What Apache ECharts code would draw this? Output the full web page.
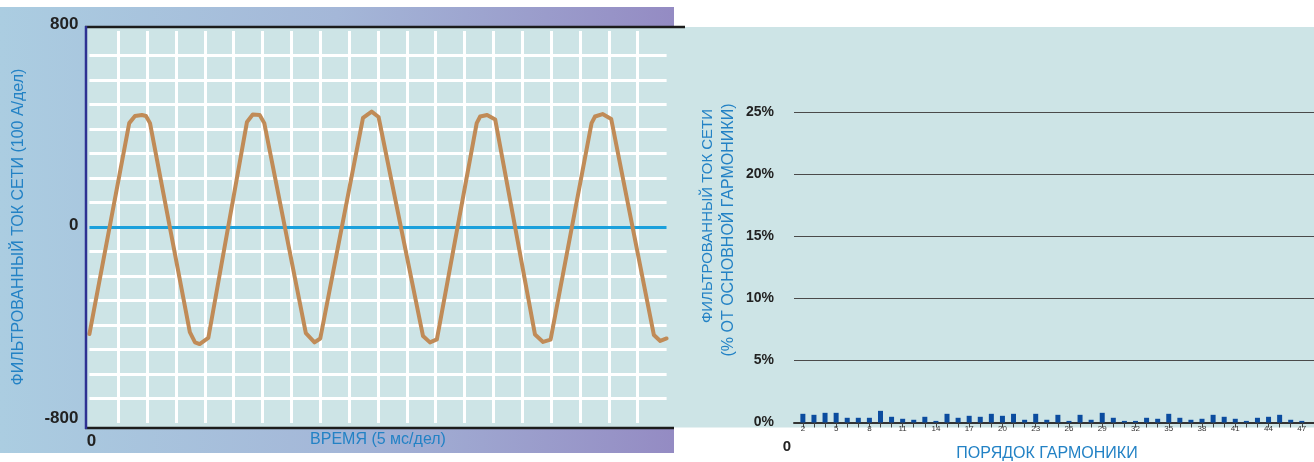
<!DOCTYPE html>
<html>
<head>
<meta charset="utf-8">
<title>Ток сети и гармоники</title>
<script src="https://cdn.jsdelivr.net/npm/echarts@6.0.0/dist/echarts.min.js"></script>
<style>
  html, body { margin: 0; padding: 0; background: #ffffff; }
  #chart { width: 1314px; height: 462px; }
</style>
</head>
<body>
<div id="chart"></div>
<script>
// Filtered mains current waveform: time (ms) and current (A)
const timeMs = [0.0, 6.9, 7.9, 9.1, 9.8, 10.5, 17.4, 18.3, 19.1, 20.6, 27.3, 28.3, 29.5, 30.3,
  37.5, 39.0, 40.0, 47.4, 48.9, 50.1, 57.8, 59.0, 60.2, 67.1, 67.7, 68.9, 70.3,
  77.2, 78.6, 79.9, 87.0, 87.6, 88.9, 90.4, 97.8, 98.9, 100.0];
const currentA = [-437, 424, 453, 457, 453, 424, -429, -471, -478, -453, 429, 459, 457, 424,
  -433, -471, -455, 445, 471, 449, -445, -471, -459, 424, 451, 457, 439,
  -439, -469, -460, 424, 451, 461, 441, -441, -465, -455];
const currentTickLabels = [-800, 0, 800];
const timeTickLabels = [0];

// Harmonic spectrum: harmonic order and level (% of fundamental)
const harmonicOrder = [2, 3, 4, 5, 6, 7, 8, 9, 10, 11, 12, 13, 14, 15, 16, 17, 18, 19, 20, 21, 22, 23, 24,
  25, 26, 27, 28, 29, 30, 31, 32, 33, 34, 35, 36, 37, 38, 39, 40, 41, 42, 43, 44, 45, 46, 47];
const harmonicPct = [0.70, 0.62, 0.78, 0.78, 0.38, 0.38, 0.38, 0.94, 0.46, 0.30, 0.22, 0.46, 0.13, 0.70,
  0.38, 0.54, 0.46, 0.70, 0.54, 0.70, 0.22, 0.70, 0.22, 0.62, 0.13, 0.62, 0.22, 0.78, 0.38, 0.13,
  0.13, 0.38, 0.30, 0.70, 0.38, 0.22, 0.30, 0.62, 0.46, 0.30, 0.13, 0.38, 0.46, 0.62, 0.22, 0.13];
const harmonicTickLabels = [2, 5, 8, 11, 14, 17, 20, 23, 26, 29, 32, 35, 38, 41, 44, 47];

const FONT = '"Liberation Sans", Arial, Helvetica, sans-serif';
const BLUE_TEXT = '#2382c5';
const TEAL = '#cde4e6';

// current labels sit a little above their grid lines
function currentLabel(v) {
  if (!currentTickLabels.includes(v)) return '';
  if (v > 0) return '{hi|' + v + '}';
  if (v < 0) return '{lo|' + v + '}';
  return '{mid|' + v + '}';
}
const boldLabel = { fontFamily: FONT, fontSize: 17, fontWeight: 'bold', color: '#222' };

const chart = echarts.init(document.getElementById('chart'), null, { renderer: 'canvas' });

chart.setOption({
  animation: false,
  backgroundColor: '#ffffff',
  textStyle: { fontFamily: FONT },
  grid: [
    { left: 89.4, top: 31, width: 577.2, height: 392, containLabel: false, outerBoundsMode: 'none' },
    { left: 794, top: 112.5, width: 520, height: 310, containLabel: false, outerBoundsMode: 'none' }
  ],
  xAxis: [
    {
      gridIndex: 0, type: 'value', min: 0, max: 100, interval: 5,
      axisLine: { show: false }, axisTick: { show: false },
      axisLabel: {
        show: true, showMinLabel: true, margin: 10,
        formatter: v => (timeTickLabels.includes(v) ? String(v) : ''),
        fontFamily: FONT, fontSize: 17, fontWeight: 'bold', color: '#222',
        padding: [0, 0, 0, 4]
      },
      splitLine: { show: true, showMinLine: false, showMaxLine: false, lineStyle: { color: '#ffffff', width: 3 } },
      name: 'ВРЕМЯ (5 мс/дел)', nameLocation: 'middle', nameGap: 9, nameMoveOverlap: false,
      nameTextStyle: { fontFamily: FONT, fontSize: 16, color: BLUE_TEXT }
    },
    {
      gridIndex: 1, type: 'value', min: 1.2, max: 48.1,
      axisLine: { show: true, lineStyle: { color: '#333333', width: 2 } },
      axisTick: { show: true, customValues: harmonicOrder, length: 5, lineStyle: { color: '#444', width: 1 } },
      axisLabel: {
        show: true, customValues: harmonicTickLabels, margin: 2,
        fontFamily: FONT, fontSize: 8, color: '#333'
      },
      splitLine: { show: false },
      name: 'ПОРЯДОК ГАРМОНИКИ', nameLocation: 'middle', nameGap: 23, nameMoveOverlap: false,
      nameTextStyle: { fontFamily: FONT, fontSize: 16, color: BLUE_TEXT, padding: [0, 14, 0, 0] }
    }
  ],
  yAxis: [
    {
      gridIndex: 0, type: 'value', min: -800, max: 800, interval: 100,
      axisLine: { show: false }, axisTick: { show: false },
      axisLabel: {
        show: true, showMinLabel: true, showMaxLabel: true, margin: 11,
        formatter: currentLabel,
        rich: {
          hi: Object.assign({ padding: [0, 0, 14, 0] }, boldLabel),
          mid: Object.assign({ padding: [0, 0, 4, 0] }, boldLabel),
          lo: Object.assign({ padding: [0, 0, 10, 0] }, boldLabel)
        }
      },
      splitLine: { show: true, showMinLine: false, showMaxLine: false, lineStyle: { color: '#ffffff', width: 3 } },
      name: 'ФИЛЬТРОВАННЫЙ ТОК СЕТИ (100 А/дел)', nameLocation: 'middle', nameGap: 63, nameRotate: 90,
      nameMoveOverlap: false,
      nameTextStyle: { fontFamily: FONT, fontSize: 16, color: BLUE_TEXT }
    },
    {
      gridIndex: 1, type: 'value', min: 0, max: 25, interval: 5,
      axisLine: { show: false }, axisTick: { show: false },
      axisLabel: {
        show: true, margin: 20, formatter: '{value}%',
        fontFamily: FONT, fontSize: 14, fontWeight: 'bold', color: '#222'
      },
      splitLine: { show: true, lineStyle: { color: '#4a4a4a', width: 1.2 } }
    }
  ],
  graphic: [
    // panel backgrounds
    {
      type: 'rect', z: -20, silent: true,
      shape: { x: 0, y: 7, width: 674, height: 446 },
      style: {
        fill: new echarts.graphic.LinearGradient(0, 0, 1, 0, [
          { offset: 0, color: '#abcde1' },
          { offset: 0.5, color: '#a4b7d8' },
          { offset: 1, color: '#948bc3' }
        ])
      }
    },
    { type: 'rect', z: -19, silent: true, shape: { x: 86, y: 27, width: 1228, height: 400.5 }, style: { fill: TEAL } },
    { type: 'rect', z: -19, silent: true, shape: { x: 86, y: 426, width: 588, height: 2 }, style: { fill: TEAL } },
    // frame of the waveform plot
    { type: 'line', z: 50, silent: true, shape: { x1: 85, y1: 27, x2: 685, y2: 27 }, style: { stroke: '#1c1c1c', lineWidth: 2.5 } },
    { type: 'line', z: 50, silent: true, shape: { x1: 85, y1: 428, x2: 674, y2: 428 }, style: { stroke: '#1c1c1c', lineWidth: 2.5 } },
    { type: 'line', z: 51, silent: true, shape: { x1: 86, y1: 26, x2: 86, y2: 429 }, style: { stroke: '#2e3192', lineWidth: 2.5 } },
    // spectrum axis title, two lines
    {
      type: 'text', z: 50, silent: true,
      x: 708, y: 216, rotation: Math.PI / 2,
      style: {
        text: 'ФИЛЬТРОВАННЫЙ ТОК СЕТИ',
        fill: BLUE_TEXT, font: '15px ' + FONT, align: 'center', verticalAlign: 'middle'
      }
    },
    {
      type: 'text', z: 50, silent: true,
      x: 729, y: 230, rotation: Math.PI / 2,
      style: {
        text: '(% ОТ ОСНОВНОЙ ГАРМОНИКИ)',
        fill: BLUE_TEXT, font: '16px ' + FONT, align: 'center', verticalAlign: 'middle'
      }
    },
    {
      type: 'text', z: 50, silent: true, x: 787, y: 447,
      style: { text: '0', fill: '#222', font: 'bold 15px ' + FONT, align: 'center', verticalAlign: 'middle' }
    }
  ],
  series: [
    {
      type: 'line', xAxisIndex: 0, yAxisIndex: 0,
      data: timeMs.map((t, i) => [t, currentA[i]]),
      showSymbol: false, smooth: false, z: 5,
      lineStyle: { color: '#c08b57', width: 4, join: 'round', cap: 'round' },
      markLine: {
        silent: true, symbol: 'none', z: 4,
        label: { show: false },
        lineStyle: { color: '#1ba0dc', width: 3, type: 'solid' },
        data: [{ yAxis: 0 }]
      }
    },
    {
      type: 'bar', xAxisIndex: 1, yAxisIndex: 1,
      data: harmonicOrder.map((h, i) => [h, harmonicPct[i]]),
      barWidth: 5,
      itemStyle: { color: '#0b4c9f' }
    }
  ]
});
</script>
</body>
</html>
